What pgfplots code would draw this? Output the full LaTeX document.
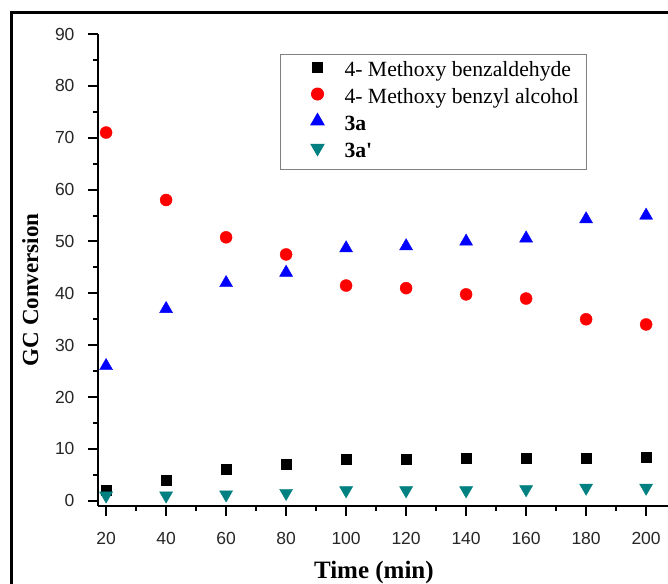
\documentclass[border=0pt]{standalone}
\usepackage{fontspec}
\setmainfont{Liberation Serif}
\setsansfont{Liberation Sans}
\usepackage{pgfplots}
\pgfplotsset{compat=1.18}
\definecolor{cteal}{RGB}{0,128,128}
\definecolor{cblue}{RGB}{0,0,255}
\definecolor{cred}{RGB}{255,0,0}

\begin{document}
\begin{tikzpicture}[x=1pt,y=1pt]
\path[use as bounding box] (0,0) rectangle (668,583);
% outer frame of the original figure
\draw[line width=3pt] (11,-30) -- (11,570) -- (700,570);
\begin{axis}[
  at={(98pt,77pt)}, anchor=south west,
  scale only axis, width=570pt, height=472pt,
  xmin=17.3, xmax=207.3, ymin=-1, ymax=90,
  axis lines*=left,
  axis line style={-, line width=2.4pt},
  xtick={20,40,...,200}, ytick={0,10,...,90},
  minor x tick num=1, minor y tick num=1,
  tick align=outside,
  major tick length=10pt, minor tick length=5pt,
  every tick/.style={black, line width=2pt},
  tick label style={font=\fontsize{17.5}{17.5}\selectfont\sffamily, text=black!85},
  yticklabel style={xshift=-10pt},
  xticklabel style={yshift=-12.5pt},
  /pgf/number format/assume math mode=true,
  xlabel={Time (min)}, ylabel={GC Conversion},
  xlabel style={at={(axis description cs:0.484,-0.140)}, anchor=center,
    font=\fontsize{25}{25}\selectfont\bfseries},
  ylabel style={at={(axis description cs:-0.119,0.458)}, anchor=center,
    font=\fontsize{23}{23}\selectfont\bfseries},
  legend style={at={(axis description cs:0.3193,0.9576)}, anchor=north west,
    draw=black!50, line width=1pt, font=\fontsize{21.7}{23}\selectfont,
    inner xsep=6pt, inner ysep=5pt, row sep=3pt,
    nodes={inner sep=2pt, text height=15pt, text depth=5pt}},
  legend cell align=left,
  legend image code/.code={%
    \path[draw=none] (0pt,0pt) -- (56pt,0pt);
    \draw[only marks] plot coordinates {(31pt,4.5pt)};},
]
\addplot[only marks, mark=square*, mark size=5pt, color=black] coordinates {
  (20,2) (40,4) (60,6) (80,7) (100,8) (120,8) (140,8.3) (160,8.3) (180,8.3) (200,8.4)
};
\addlegendentry{4- Methoxy benzaldehyde}
\addplot[only marks, mark=*, mark size=6pt, color=cred] coordinates {
  (20,71) (40,58) (60,50.8) (80,47.5) (100,41.5) (120,41) (140,39.8) (160,39) (180,35) (200,34)
};
\addlegendentry{4- Methoxy benzyl alcohol}
\addplot[only marks, mark=triangle*, mark size=7.5pt, color=cblue] coordinates {
  (20,26) (40,37) (60,42) (80,44) (100,48.7) (120,49.1) (140,50) (160,50.6) (180,54.3) (200,55)
};
\addlegendentry{\textbf{3a}}
\addplot[only marks, mark=triangle*, mark size=7.5pt, color=cteal, mark options={rotate=180}] coordinates {
  (20,1) (40,1) (60,1.2) (80,1.5) (100,2) (120,2) (140,2) (160,2.2) (180,2.5) (200,2.5)
};
\addlegendentry{\textbf{3a\textquotesingle}}
\end{axis}
\end{tikzpicture}
\end{document}
